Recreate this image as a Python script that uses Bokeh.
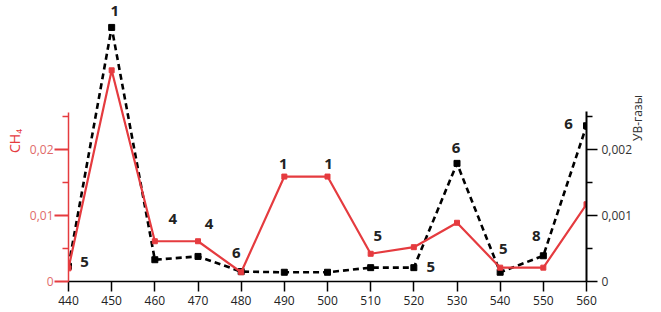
import math
from bokeh.plotting import figure
from bokeh.models import ColumnDataSource, LinearAxis, Range1d, FixedTicker, LabelSet
from bokeh.core.properties import value
from bokeh.embed import file_html
from bokeh.resources import INLINE

# ---- data ----
wavelength = [440, 450, 460, 470, 480, 490, 500, 510, 520, 530, 540, 550, 560]
ch4 = [0.0020, 0.0320, 0.0061, 0.0061, 0.0014, 0.0159, 0.0159, 0.0042, 0.0052, 0.0089, 0.0021, 0.0021, 0.0117]
uv_gas = [0.00023, 0.00385, 0.00033, 0.00038, 0.00015, 0.00014, 0.00014, 0.00021, 0.00021, 0.00179, 0.00014, 0.00039, 0.00236]
point_labels = ["5", "1", "4", "4", "6", "1", "1", "5", "5", "6", "5", "8", "6"]
label_series = ["uv", "uv", "ch4", "ch4", "ch4", "ch4", "ch4", "ch4", "uv", "uv", "ch4", "uv", "uv"]
x_ticks = [440, 450, 460, 470, 480, 490, 500, 510, 520, 530, 540, 550, 560]
left_ticks = [0, 0.01, 0.02]
left_minor = [0.005, 0.015, 0.025]
left_labels = {0: "0", 0.01: "0,01", 0.02: "0,02"}
right_ticks = [0, 0.001, 0.002]
right_minor = [0.0005, 0.0015, 0.0025]
right_labels = {0: "0", 0.001: "0,001", 0.002: "0,002"}
left_title = "CH₄"
right_title = "УВ-газы"

# label placement (screen px offsets from anchor point; dy positive = up)
label_dx = [16, 3, 18, 11, -5, -1, 1, 7, 17, -1, 3, -7, -18]
label_dy = [4, 16, 22, 17, 19, 13, 13, 18, 1, 15, 19, 20, 2]

RED = "#e53b3f"
FONT = "Open Sans"

p = figure(width=661, height=312, output_backend="svg", toolbar_location=None,
           x_range=Range1d(440, 560), y_range=Range1d(0, 0.04258),
           min_border_left=68, min_border_right=75, min_border_top=0, min_border_bottom=31)
p.extra_y_ranges = {"uv": Range1d(0, 0.004258)}
p.outline_line_color = None
p.xgrid.visible = False
p.ygrid.visible = False
p.background_fill_color = "white"

# x axis
xa = p.xaxis[0]
xa.ticker = FixedTicker(ticks=x_ticks)
xa.major_tick_out = 10
xa.major_tick_in = 0
xa.minor_tick_out = 0
xa.axis_line_color = "black"
xa.axis_line_width = 1.5
xa.major_tick_line_color = "black"
xa.major_tick_line_width = 1.5
xa.major_label_text_font = FONT
xa.major_label_text_font_size = "12px"
xa.major_label_text_color = "#222222"
xa.major_label_standoff = 4
xa.axis_label_standoff = 0

# left axis
ya = p.yaxis[0]
ya.ticker = FixedTicker(ticks=left_ticks, minor_ticks=left_minor)
ya.bounds = (0, 0.0256)
ya.major_label_overrides = left_labels
ya.axis_line_color = RED
ya.axis_line_width = 1.5
ya.major_tick_line_color = RED
ya.major_tick_line_width = 2
ya.minor_tick_line_color = RED
ya.minor_tick_line_width = 1.5
ya.major_tick_out = 14
ya.major_tick_in = 0
ya.minor_tick_out = 6
ya.minor_tick_in = 0
ya.major_label_text_font = FONT
ya.major_label_text_font_size = "12px"
ya.major_label_text_color = "#e06a6a"
ya.major_label_standoff = 1
ya.axis_label = left_title
ya.axis_label_text_font = FONT
ya.axis_label_text_font_style = "normal"
ya.axis_label_text_font_size = "14px"
ya.axis_label_text_color = RED
ya.axis_label_standoff = 3

# right axis
ra = LinearAxis(y_range_name="uv")
ra.ticker = FixedTicker(ticks=right_ticks, minor_ticks=right_minor)
ra.bounds = (0, 0.00258)
ra.major_label_overrides = right_labels
ra.axis_line_color = "black"
ra.axis_line_width = 2
ra.major_tick_line_color = "black"
ra.major_tick_line_width = 1.5
ra.minor_tick_line_color = "black"
ra.minor_tick_line_width = 1.5
ra.major_tick_out = 11
ra.major_tick_in = 0
ra.minor_tick_out = 6
ra.minor_tick_in = 0
ra.major_label_text_font = FONT
ra.major_label_text_font_size = "12px"
ra.major_label_text_color = "#333333"
ra.major_label_standoff = 4
ra.axis_label = right_title
ra.axis_label_orientation = math.pi / 2
ra.axis_label_text_align = "center"
ra.axis_label_text_baseline = "middle"
ra.axis_label_text_font = FONT
ra.axis_label_text_font_style = "normal"
ra.axis_label_text_font_size = "12px"
ra.axis_label_text_color = "#333333"
ra.axis_label_standoff = 2
p.add_layout(ra, "right")

src = ColumnDataSource(dict(x=wavelength, ch4=ch4, uv=uv_gas))

# black dashed series (right axis)
p.line("x", "uv", source=src, y_range_name="uv", line_color="black", line_width=2.6, line_dash="6 4")
p.scatter("x", "uv", source=src, y_range_name="uv", marker="square", size=6, color="black")

# red series (left axis)
p.line("x", "ch4", source=src, line_color=RED, line_width=2.2)
p.scatter("x", "ch4", source=src, marker="square", size=5, color=RED)

# number labels
idx_c = [i for i, s in enumerate(label_series) if s == "ch4"]
idx_u = [i for i, s in enumerate(label_series) if s == "uv"]
lab_c = ColumnDataSource(dict(x=[wavelength[i] for i in idx_c], y=[ch4[i] for i in idx_c],
                              t=[point_labels[i] for i in idx_c],
                              dx=[label_dx[i] for i in idx_c], dy=[label_dy[i] for i in idx_c]))
lab_u = ColumnDataSource(dict(x=[wavelength[i] for i in idx_u], y=[uv_gas[i] for i in idx_u],
                              t=[point_labels[i] for i in idx_u],
                              dx=[label_dx[i] for i in idx_u], dy=[label_dy[i] for i in idx_u]))
for s, rn in ((lab_c, "default"), (lab_u, "uv")):
    p.add_layout(LabelSet(x="x", y="y", text="t", source=s, y_range_name=rn,
                          x_offset="dx", y_offset="dy",
                          text_font=value(FONT), text_font_style="bold", text_font_size="15px",
                          text_color="#222222", text_align="center", text_baseline="middle"))

open("out.html", "w").write(file_html(p, INLINE))
